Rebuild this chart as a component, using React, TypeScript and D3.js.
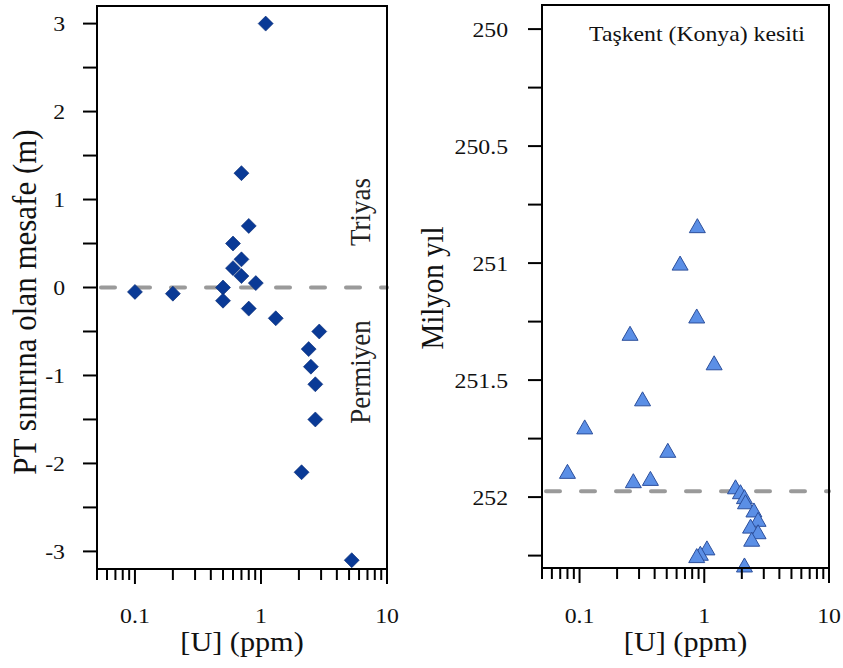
import React from "react";
import * as d3 from "d3";

// ---- Data ----
const leftU = [1.09, 0.7, 0.8, 0.6, 0.7, 0.6, 0.7, 0.91, 0.5, 0.1, 0.2, 0.5, 0.8, 1.31, 2.9, 2.39, 2.49, 2.7, 2.7, 2.1, 5.25];
const leftDepth = [3.0, 1.3, 0.7, 0.5, 0.32, 0.22, 0.13, 0.05, 0.0, -0.05, -0.07, -0.15, -0.24, -0.35, -0.5, -0.7, -0.9, -1.1, -1.5, -2.1, -3.1];

const rightU = [0.88, 0.64, 0.87, 0.254, 1.2, 0.32, 0.11, 0.51, 0.08, 0.27, 0.37, 1.78, 1.95, 2.1, 2.14, 2.5, 2.7, 2.35, 2.7, 2.4, 1.05, 0.93, 0.87, 2.1];
const rightAge = [250.84, 251.0, 251.226, 251.3, 251.426, 251.58, 251.7, 251.8, 251.89, 251.93, 251.92, 251.956, 251.977, 251.998, 252.02, 252.055, 252.095, 252.124, 252.148, 252.18, 252.217, 252.24, 252.25, 252.29];

const xTickLabels = ["0.1", "1", "10"];
const xTickValues = [0.1, 1, 10];
const leftYTicks = [3, 2, 1, 0, -1, -2, -3];
const leftYMinor = [2.5, 1.5, 0.5, -0.5, -1.5, -2.5];
const rightYTicks = [250, 250.5, 251, 251.5, 252];
const rightYMinor = [250.25, 250.75, 251.25, 251.75, 252.25];
const leftBoundary = 0;
const rightBoundary = 251.975;

const FONT = "Liberation Serif, serif";
const SX = 1.08;

function minorLogTicks(): number[] {
  const out: number[] = [];
  for (const dec of [0.01, 0.1, 1]) {
    for (let k = 1; k <= 9; k++) {
      const v = +(k * dec).toFixed(3);
      if (v >= 0.05 && v <= 10) out.push(v);
    }
  }
  out.push(10);
  return out;
}

const txt = (size: number, color = "#111"): React.CSSProperties => ({ fontFamily: FONT, fontSize: size, fill: color });

function XAxis({ x, y1, cx, title }: { x: d3.ScaleLogarithmic<number, number>; y1: number; cx: number; title: string }) {
  const ticks = minorLogTicks();
  return (
    <g>
      {ticks.map((t, i) => {
        const major = xTickValues.some((m) => Math.abs(m - t) < 1e-9);
        return <line key={i} x1={x(t)} x2={x(t)} y1={y1} y2={y1 + (major ? 15 : 11)} stroke="#000" strokeWidth={2} />;
      })}
      {xTickValues.map((t, i) => (
        <text key={i} transform={`translate(${x(t)},623) scale(${SX},1)`} textAnchor="middle" style={txt(22)}>
          {xTickLabels[i]}
        </text>
      ))}
      <text transform={`translate(${cx},651) scale(${SX},1)`} textAnchor="middle" style={txt(28)}>
        {title}
      </text>
    </g>
  );
}

export default function App() {
  const L = { x0: 97, x1: 387, y0: 6, y1: 569 };
  const xL = d3.scaleLog().domain([0.05, 10]).range([L.x0, L.x1]);
  const yL = d3.scaleLinear().domain([-3.2, 3.2]).range([L.y1, L.y0]);

  const R = { x0: 542, x1: 829, y0: 5, y1: 568 };
  const xR = d3.scaleLog().domain([0.05, 10]).range([R.x0, R.x1]);
  const yR = d3.scaleLinear().domain([249.897, 252.303]).range([R.y0, R.y1]);

  const diamond = (cx: number, cy: number) => `M${cx},${cy - 7.5}L${cx + 7.5},${cy}L${cx},${cy + 7.5}L${cx - 7.5},${cy}Z`;
  const tri = (cx: number, cy: number) => `M${cx},${cy - 7}L${cx + 8},${cy + 7}L${cx - 8},${cy + 7}Z`;

  return (
    <svg width={843} height={668} viewBox="0 0 843 668" style={{ position: "absolute", left: 0, top: 0, background: "#fff" }}>
      <rect x={0} y={0} width={843} height={668} fill="#fff" />

      {/* ===== Left panel ===== */}
      <line x1={L.x0 + 4} x2={L.x1} y1={yL(leftBoundary)} y2={yL(leftBoundary)} stroke="#9a9a9a" strokeWidth={4} strokeDasharray="14 21" strokeLinecap="round" />
      {leftU.map((u, i) => (
        <path key={i} d={diamond(xL(u), yL(leftDepth[i]))} fill="#0a3a96" stroke="#062a74" strokeWidth={0.6} />
      ))}
      <rect x={L.x0} y={L.y0} width={L.x1 - L.x0} height={L.y1 - L.y0} fill="none" stroke="#000" strokeWidth={2} />
      {[...leftYTicks, ...leftYMinor].map((t, i) => (
        <line key={i} x1={L.x0 - 14} x2={L.x0} y1={yL(t)} y2={yL(t)} stroke="#000" strokeWidth={2} />
      ))}
      {leftYTicks.map((t, i) => (
        <text key={i} transform={`translate(65,${yL(t) + 7.5}) scale(${SX},1)`} textAnchor="end" style={txt(22)}>
          {String(t)}
        </text>
      ))}
      <text transform={`translate(36,302) scale(${SX},1) rotate(-90)`} textAnchor="middle" style={txt(31)}>
        PT sınırına olan mesafe (m)
      </text>
      <text transform={`translate(370,212) scale(${SX},1) rotate(-90)`} textAnchor="middle" style={txt(27, "#222")}>
        Triyas
      </text>
      <text transform={`translate(370,372) scale(${SX},1) rotate(-90)`} textAnchor="middle" style={txt(27, "#222")}>
        Permiyen
      </text>
      <XAxis x={xL} y1={L.y1} cx={(L.x0 + L.x1) / 2} title="[U] (ppm)" />

      {/* ===== Right panel ===== */}
      <line x1={R.x0 + 4} x2={R.x1} y1={yR(rightBoundary)} y2={yR(rightBoundary)} stroke="#9a9a9a" strokeWidth={4} strokeDasharray="14 21" strokeLinecap="round" />
      {rightU.map((u, i) => (
        <path key={i} d={tri(xR(u), yR(rightAge[i]))} fill="#5b8fe6" stroke="#2c4f9c" strokeWidth={1} />
      ))}
      <rect x={R.x0} y={R.y0} width={R.x1 - R.x0} height={R.y1 - R.y0} fill="none" stroke="#000" strokeWidth={2} />
      {[...rightYTicks, ...rightYMinor].map((t, i) => (
        <line key={i} x1={R.x0 - 14} x2={R.x0} y1={yR(t)} y2={yR(t)} stroke="#000" strokeWidth={2} />
      ))}
      {rightYTicks.map((t, i) => (
        <text key={i} transform={`translate(508,${yR(t) + 7.5}) scale(${SX},1)`} textAnchor="end" style={txt(22)}>
          {String(t)}
        </text>
      ))}
      <text transform={`translate(443,288) scale(${SX},1) rotate(-90)`} textAnchor="middle" style={txt(29)}>
        Milyon yıl
      </text>
      <text transform={`translate(697,41) scale(${SX},1)`} textAnchor="middle" style={txt(22)}>
        Taşkent (Konya) kesiti
      </text>
      <XAxis x={xR} y1={R.y1} cx={(R.x0 + R.x1) / 2} title="[U] (ppm)" />
    </svg>
  );
}
